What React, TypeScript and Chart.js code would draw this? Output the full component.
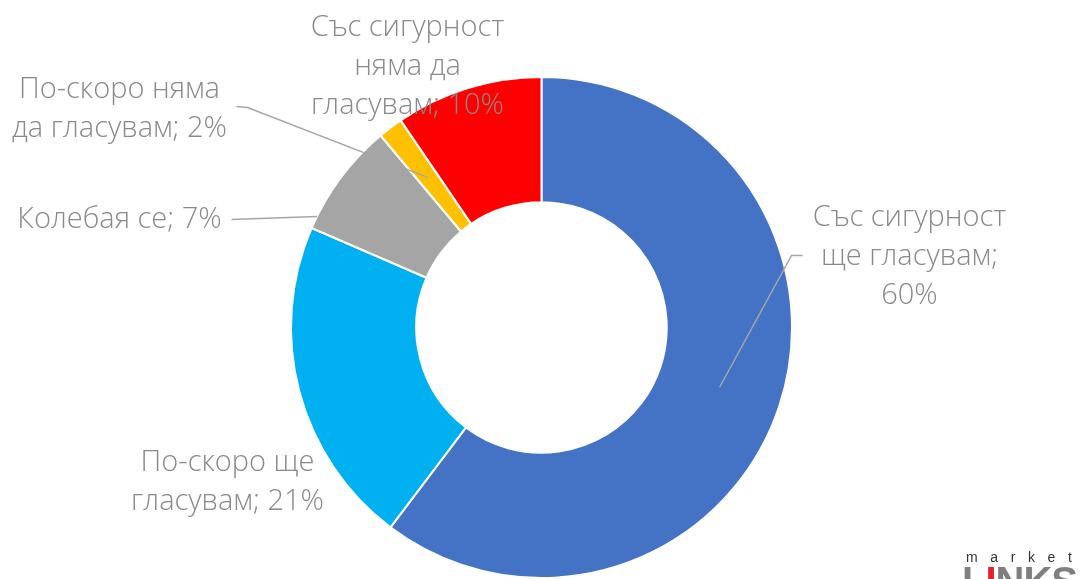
import React, { useEffect, useRef } from "react";
import { Chart, registerables } from "chart.js";
Chart.register(...registerables);

const categories = [
  "Със сигурност ще гласувам",
  "По-скоро ще гласувам",
  "Колебая се",
  "По-скоро няма да гласувам",
  "Със сигурност няма да гласувам",
];
const values = [60.3, 21.2, 7.4, 1.6, 9.5];
const colors = ["#4472C4", "#00B0F0", "#A5A5A5", "#FFC000", "#FF0000"];
const labelTemplates = [
  "Със сигурност\nще гласувам;\n{v}%",
  "По-скоро ще\nгласувам; {v}%",
  "Колебая се; {v}%",
  "По-скоро няма\nда гласувам; {v}%",
  "Със сигурност\nняма да\nгласувам; {v}%",
];

// label placement relative to the doughnut centre (first line centre)
type Leader = { pts: number[][]; end: "centroid" | "edge"; edgeDy?: number } | null;
const labelLayout: { dx: number; dy: number; leader: Leader }[] = [
  { dx: 368, dy: -110, leader: { pts: [[261, -72], [250, -72]], end: "centroid" } },
  { dx: -314, dy: 135, leader: null },
  { dx: -422, dy: -108, leader: { pts: [[-310, -108]], end: "edge", edgeDy: -111 } },
  { dx: -422, dy: -238, leader: { pts: [[-305, -221], [-294, -220]], end: "centroid" } },
  { dx: -134, dy: -300, leader: null },
];

const FONT = '300 29px "Open Sans"';
const LINE_H = 39;
const TEXT_COLOR = "#898989";

const labelPlugin = {
  id: "outLabels",
  afterDraw(chart: any) {
    const ctx = chart.ctx;
    const meta = chart.getDatasetMeta(0);
    ctx.save();
    meta.data.forEach((arc: any, i: number) => {
      const { x: cx, y: cy, outerRadius } = arc.getProps(["x", "y", "outerRadius"], true);
      const lay = labelLayout[i];
      if (lay.leader) {
        ctx.strokeStyle = "#a6a6a6";
        ctx.lineWidth = 1.5;
        ctx.beginPath();
        lay.leader.pts.forEach((p, k) => {
          if (k === 0) ctx.moveTo(cx + p[0], cy + p[1]);
          else ctx.lineTo(cx + p[0], cy + p[1]);
        });
        if (lay.leader.end === "centroid") {
          const c = arc.tooltipPosition(true);
          ctx.lineTo(c.x, c.y);
        } else {
          const dy = lay.leader.edgeDy || 0;
          const ex = -Math.sqrt(outerRadius * outerRadius - dy * dy);
          ctx.lineTo(cx + ex, cy + dy);
        }
        ctx.stroke();
      }
      const text = labelTemplates[i].replace("{v}", String(Math.round(values[i])));
      const lines = text.split("\n");
      ctx.font = FONT;
      ctx.fillStyle = TEXT_COLOR;
      ctx.textAlign = "center";
      ctx.textBaseline = "middle";
      lines.forEach((ln, k) => {
        ctx.fillText(ln, cx + lay.dx, cy + lay.dy + k * LINE_H);
      });
    });
    ctx.restore();
  },
};

export default function App() {
  const ref = useRef<HTMLCanvasElement>(null);
  useEffect(() => {
    if (!ref.current) return;
    const chart = new Chart(ref.current, {
      type: "doughnut",
      data: {
        labels: categories,
        datasets: [
          {
            data: values,
            backgroundColor: colors,
            borderColor: "#ffffff",
            borderWidth: 2,
          },
        ],
      },
      options: {
        responsive: false,
        animation: false,
        cutout: "50%",
        layout: { padding: { top: 76, bottom: 0, left: 290, right: 288 } },
        plugins: {
          legend: { display: false },
          tooltip: { enabled: false },
          title: { display: false },
        },
      },
      plugins: [labelPlugin],
    });
    return () => chart.destroy();
  }, []);

  return (
    <div
      style={{
        position: "fixed",
        left: 0,
        top: 0,
        width: 1081,
        height: 579,
        background: "#ffffff",
        overflow: "hidden",
      }}
    >
      <canvas ref={ref} width={1081} height={579} style={{ display: "block" }} />
      <div
        style={{
          position: "absolute",
          left: 966,
          top: 550,
          fontFamily: '"Liberation Sans", Arial, sans-serif',
          fontSize: 14,
          letterSpacing: 12.6,
          color: "#333",
          lineHeight: "14px",
        }}
      >
        market
      </div>
      <div
        style={{
          position: "absolute",
          left: 962,
          top: 561,
          fontFamily: '"Liberation Sans", Arial, sans-serif',
          fontWeight: 700,
          fontSize: 40,
          lineHeight: "40px",
          color: "#7f7f7f",
          letterSpacing: -1,
        }}
      >
        L<span style={{ color: "#e8202a" }}>I</span>NKS
      </div>
    </div>
  );
}
